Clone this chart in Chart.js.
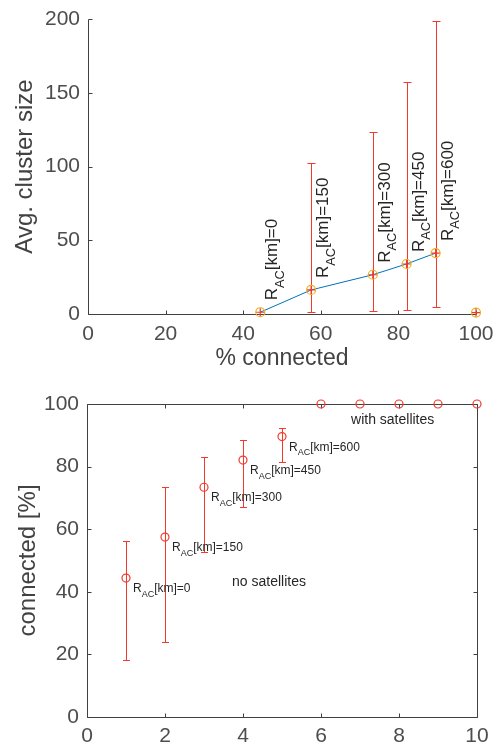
<!DOCTYPE html>
<html>
<head>
<meta charset="utf-8">
<script src="https://cdn.jsdelivr.net/npm/chart.js@4.4.0/dist/chart.umd.min.js"></script>
<style>
  html, body { margin: 0; padding: 0; background: #fff; }
  #wrap { position: relative; width: 499px; height: 746px; }
  .box { position: absolute; left: 0; width: 499px; }
</style>
</head>
<body>
<div id="wrap">
  <div class="box" style="top:0;height:380px"><canvas id="clusterChart" width="499" height="380"></canvas></div>
  <div class="box" style="top:380px;height:366px"><canvas id="connChart" width="499" height="366"></canvas></div>
</div>
<script>
// ---- data ----
const radiiKm = [0, 150, 300, 450, 600];

// top panel: avg cluster size vs % connected (last point = with satellites)
const pctConnected = [44.4, 57.5, 73.4, 82.1, 89.6, 100];
const clusterSize  = [1.2, 16.3, 26.6, 33.9, 41.3, 1.0];
const clusterLow   = [null, 1.2, 2.0, 3.0, 4.7, null];
const clusterHigh  = [null, 102.4, 123.4, 157.0, 198.6, null];

// bottom panel: connected [%] per run
const runIndex      = [1, 2, 3, 4, 5, 6, 7, 8, 9, 10];
const connectedPct  = [44.4, 57.5, 73.4, 82.1, 89.6, 100, 100, 100, 100, 100];
const connectedLow  = [18.2, 24.0, 52.7, 67.0, 81.4, null, null, null, null, null];
const connectedHigh = [56.2, 73.5, 83.0, 88.4, 92.2, null, null, null, null, null];

const topXTicks = [0, 20, 40, 60, 80, 100];
const topYTicks = [0, 50, 100, 150, 200];

// ---- style ----
const FONT = '"Liberation Sans", Arial, Helvetica, sans-serif';
const AXIS = '#404040';
const TICK = '#4d4d4d';
const TITLE = '#424242';
const TEXT = '#262626';
const RED = '#f2392b';
const ORANGE = '#EDB120';
const BLUE = '#0072BD';

Chart.defaults.font.family = FONT;
Chart.defaults.animation = false;
Chart.defaults.events = [];

function drawRAC(ctx, x, y, value, size) {
  ctx.font = `${size}px ${FONT}`;
  ctx.fillText('R', x, y);
  let w = ctx.measureText('R').width;
  const sub = size * 0.75;
  ctx.font = `${sub}px ${FONT}`;
  ctx.fillText('AC', x + w, y + size * 0.38);
  w += ctx.measureText('AC').width;
  ctx.font = `${size}px ${FONT}`;
  ctx.fillText('[km]=' + value, x + w, y);
}

function errorBars(xs, low, high, capW) {
  return {
    id: 'errorBars',
    beforeDatasetsDraw(chart) {
      const { ctx, scales: { x, y } } = chart;
      ctx.save();
      ctx.strokeStyle = RED;
      ctx.lineWidth = 1;
      ctx.beginPath();
      xs.forEach((xv, i) => {
        if (low[i] == null) return;
        const px = Math.round(x.getPixelForValue(xv)) + 0.5;
        const p1 = Math.round(y.getPixelForValue(low[i])) + 0.5;
        const p2 = Math.round(y.getPixelForValue(high[i])) + 0.5;
        ctx.moveTo(px, p1); ctx.lineTo(px, p2);
        ctx.moveTo(px - capW, p1); ctx.lineTo(px + capW, p1);
        ctx.moveTo(px - capW, p2); ctx.lineTo(px + capW, p2);
      });
      ctx.stroke();
      ctx.restore();
    }
  };
}

function axesBox(full) {
  return {
    id: 'axesBox',
    beforeDatasetsDraw(chart) {
      const { ctx, chartArea: a, scales: { x, y } } = chart;
      const L = Math.round(a.left) + 0.5, R = Math.round(a.right) + 0.5;
      const T = Math.round(a.top) + 0.5, B = Math.round(a.bottom) + 0.5;
      ctx.save();
      ctx.strokeStyle = AXIS;
      ctx.lineWidth = 1;
      ctx.beginPath();
      ctx.moveTo(L, T); ctx.lineTo(L, B); ctx.lineTo(R, B);
      if (full) { ctx.lineTo(R, T); ctx.lineTo(L, T); }
      x.ticks.forEach(t => {
        const px = Math.round(x.getPixelForValue(t.value)) + 0.5;
        ctx.moveTo(px, B); ctx.lineTo(px, B - 4);
        if (full) { ctx.moveTo(px, T); ctx.lineTo(px, T + 4); }
      });
      y.ticks.forEach(t => {
        const py = Math.round(y.getPixelForValue(t.value)) + 0.5;
        ctx.moveTo(L, py); ctx.lineTo(L + 4, py);
        if (full) { ctx.moveTo(R, py); ctx.lineTo(R - 4, py); }
      });
      ctx.stroke();
      ctx.restore();
    }
  };
}

const rotatedLabels = {
  id: 'rotatedLabels',
  afterDatasetsDraw(chart) {
    const { ctx, scales: { x, y } } = chart;
    ctx.save();
    ctx.fillStyle = TEXT;
    ctx.textAlign = 'left';
    ctx.textBaseline = 'alphabetic';
    radiiKm.forEach((r, i) => {
      const px = x.getPixelForValue(pctConnected[i]);
      const py = y.getPixelForValue(clusterSize[i]);
      ctx.save();
      ctx.translate(px + 17, py - 12);
      ctx.rotate(-Math.PI / 2);
      drawRAC(ctx, 0, 0, r, 17);
      ctx.restore();
    });
    ctx.restore();
  }
};

const connLabels = {
  id: 'connLabels',
  afterDatasetsDraw(chart) {
    const { ctx, scales: { x, y } } = chart;
    ctx.save();
    ctx.fillStyle = TEXT;
    ctx.textAlign = 'left';
    ctx.textBaseline = 'alphabetic';
    radiiKm.forEach((r, i) => {
      const px = x.getPixelForValue(runIndex[i]);
      const py = y.getPixelForValue(connectedPct[i]);
      drawRAC(ctx, px + 7, py + 14, r, 12);
    });
    ctx.font = `14px ${FONT}`;
    ctx.textBaseline = 'middle';
    ctx.fillText('no satellites', x.getPixelForValue(3.72), y.getPixelForValue(43.1));
    ctx.fillText('with satellites', x.getPixelForValue(6.77), y.getPixelForValue(94.9));
    ctx.restore();
  }
};

function fixX(h) {
  return s => { s.height = h; s.paddingLeft = 0; s.paddingRight = 0; };
}
function fixY(w) {
  return s => { s.width = w; s.paddingTop = 0; s.paddingBottom = 0; };
}

// ---- top chart ----
const topPts = pctConnected.map((v, i) => ({ x: v, y: clusterSize[i] }));
new Chart(document.getElementById('clusterChart'), {
  type: 'scatter',
  data: {
    datasets: [
      { data: topPts, pointStyle: 'cross', pointRadius: 4, borderColor: RED, borderWidth: 1.2, clip: false },
      { data: topPts, pointStyle: 'circle', pointRadius: 4.5, borderColor: ORANGE, backgroundColor: 'rgba(0,0,0,0)', borderWidth: 1.2, clip: false },
      { data: topPts.slice(0, 5), showLine: true, borderColor: BLUE, borderWidth: 1, pointRadius: 0, clip: false }
    ]
  },
  options: {
    responsive: false,
    layout: { padding: { top: 19, right: 23, left: 0, bottom: 0 } },
    plugins: { legend: { display: false }, tooltip: { enabled: false } },
    scales: {
      x: {
        type: 'linear', min: 0, max: 100,
        afterBuildTicks: s => { s.ticks = topXTicks.map(v => ({ value: v })); },
        ticks: { color: TICK, font: { size: 21 }, padding: 8, maxRotation: 0 },
        grid: { display: false, drawTicks: false },
        border: { display: false },
        title: { display: true, text: '% connected', color: TITLE, font: { size: 23 }, padding: { top: 0, bottom: 8 } },
        afterFit: fixX(66)
      },
      y: {
        type: 'linear', min: 0, max: 200,
        afterBuildTicks: s => { s.ticks = topYTicks.map(v => ({ value: v })); },
        ticks: { color: TICK, font: { size: 21 }, padding: 8 },
        grid: { display: false, drawTicks: false },
        border: { display: false },
        title: { display: true, text: 'Avg. cluster size', color: TITLE, font: { size: 24 }, padding: { top: 11, bottom: 0 } },
        afterFit: fixY(88)
      }
    }
  },
  plugins: [axesBox(false), errorBars(pctConnected, clusterLow, clusterHigh, 4), rotatedLabels]
});

// ---- bottom chart ----
const botPts = runIndex.map((v, i) => ({ x: v, y: connectedPct[i] }));
new Chart(document.getElementById('connChart'), {
  type: 'scatter',
  data: {
    datasets: [
      { data: botPts, pointStyle: 'circle', pointRadius: 4, borderColor: RED, backgroundColor: 'rgba(0,0,0,0)', borderWidth: 1.2, clip: false }
    ]
  },
  options: {
    responsive: false,
    layout: { padding: { top: 24, right: 22, left: 0, bottom: 0 } },
    plugins: { legend: { display: false }, tooltip: { enabled: false } },
    scales: {
      x: {
        type: 'linear', min: 0, max: 10,
        ticks: { stepSize: 2, color: TICK, font: { size: 21 }, padding: 7, maxRotation: 0 },
        grid: { display: false, drawTicks: false },
        border: { display: false },
        afterFit: fixX(29)
      },
      y: {
        type: 'linear', min: 0, max: 100,
        ticks: { stepSize: 20, color: TICK, font: { size: 21 }, padding: 8 },
        grid: { display: false, drawTicks: false },
        border: { display: false },
        title: { display: true, text: 'connected [%]', color: TITLE, font: { size: 24 }, padding: { top: 14, bottom: 0 } },
        afterFit: fixY(87)
      }
    }
  },
  plugins: [axesBox(true), errorBars(runIndex, connectedLow, connectedHigh, 3.5), connLabels]
});
</script>
</body>
</html>
